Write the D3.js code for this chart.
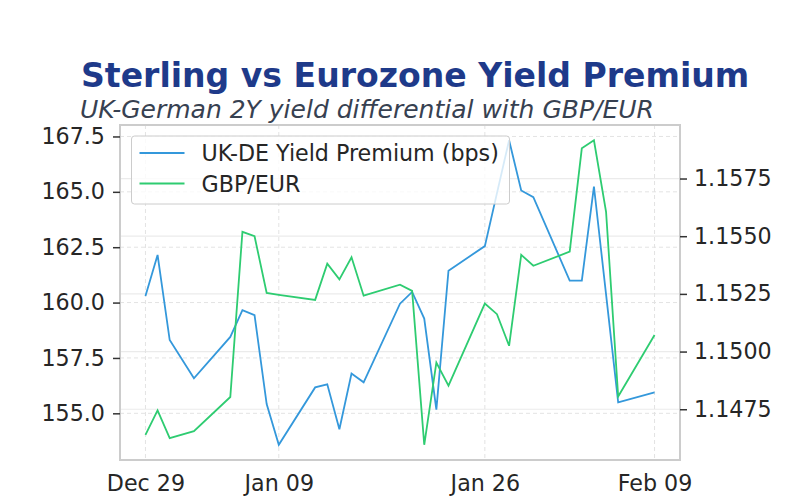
<!DOCTYPE html>
<html>
<head>
<meta charset="utf-8">
<script src="https://cdn.jsdelivr.net/npm/d3@7"></script>
<style>
  body { margin: 0; background: #fff; }
  text { font-family: "DejaVu Sans", sans-serif; }
</style>
</head>
<body>
<div id="chart"></div>
<script>
// data
var dates = ["2025-12-29","2025-12-30","2025-12-31","2026-01-02","2026-01-05","2026-01-06","2026-01-07","2026-01-08","2026-01-09",
  "2026-01-12","2026-01-13","2026-01-14","2026-01-15","2026-01-16","2026-01-19","2026-01-20","2026-01-21","2026-01-22","2026-01-23",
  "2026-01-26","2026-01-27","2026-01-28","2026-01-29","2026-01-30","2026-02-02","2026-02-03","2026-02-04","2026-02-05","2026-02-06","2026-02-09"];
var premium = [160.30, 162.15, 158.31, 156.58, 158.45, 159.66, 159.43, 155.42, 153.58,
  156.17, 156.31, 154.28, 156.80, 156.40, 159.95, 160.48, 159.28, 155.17, 161.44,
  162.55, 164.94, 167.33, 165.06, 164.76, 160.99, 160.99, 165.24, 160.37, 155.50, 155.95];
var gbpeur = [1.14639, 1.14745, 1.14625, 1.14655, 1.14803, 1.15519, 1.15500, 1.15254, 1.15246,
  1.15224, 1.15381, 1.15313, 1.15409, 1.15242, 1.15290, 1.15263, 1.14596, 1.14952, 1.14852,
  1.15208, 1.15162, 1.15025, 1.15419, 1.15372, 1.15433, 1.15881, 1.15916, 1.15606, 1.14805, 1.15072];
var xTicks = ["2025-12-29","2026-01-09","2026-01-26","2026-02-09"];
var leftTicks = [155, 157.5, 160, 162.5, 165, 167.5];
var rightTicks = [1.1475, 1.15, 1.1525, 1.155, 1.1575];
var seriesNames = ["UK-DE Yield Premium (bps)", "GBP/EUR"];
var colors = ["#3498db", "#2ecc71"];

var W = 800, H = 500;
var margin = {top: 125, right: 120, bottom: 40, left: 120},
    width = W - margin.left - margin.right,
    height = H - margin.top - margin.bottom;
var fs = 22.2;

var parse = d3.timeParse("%Y-%m-%d");
var dd = dates.map(parse);

function pad(ext, f) {
  var p = (ext[1] - ext[0]) * f;
  return [ext[0] - p, ext[1] + p];
}

var tExt = d3.extent(dd);
var tPad = (tExt[1] - tExt[0]) * 0.05;
var x = d3.scaleTime()
  .domain([new Date(+tExt[0] - tPad), new Date(+tExt[1] + tPad)])
  .range([0, width]);
var y1 = d3.scaleLinear().domain(pad(d3.extent(premium), 0.05)).range([height, 0]);
var y2 = d3.scaleLinear().domain(pad(d3.extent(gbpeur), 0.05)).range([height, 0]);

var svg = d3.select("#chart").append("svg")
  .attr("width", W).attr("height", H);

svg.append("text")
  .attr("x", 81).attr("y", 87)
  .attr("font-size", 33.1).attr("font-weight", "bold")
  .attr("fill", "#1e3a8a")
  .text("Sterling vs Eurozone Yield Premium");

svg.append("text")
  .attr("x", 80).attr("y", 118)
  .attr("font-size", 25).attr("font-style", "italic")
  .attr("fill", "#374151")
  .text("UK-German 2Y yield differential with GBP/EUR");

var g = svg.append("g")
  .attr("transform", "translate(" + margin.left + "," + margin.top + ")");

// solid grid from the twin axis
g.append("g").selectAll("line")
  .data(rightTicks).enter().append("line")
  .attr("x1", 0).attr("x2", width)
  .attr("y1", function(d) { return y2(d); })
  .attr("y2", function(d) { return y2(d); })
  .attr("stroke", "#ebebeb").attr("stroke-width", 1.2);

// dashed grid
g.append("g").selectAll("line")
  .data(leftTicks).enter().append("line")
  .attr("x1", 0).attr("x2", width)
  .attr("y1", function(d) { return y1(d); })
  .attr("y2", function(d) { return y1(d); })
  .attr("stroke", "#e3e3e3").attr("stroke-width", 1)
  .attr("stroke-dasharray", "4,3");

g.append("g").selectAll("line")
  .data(xTicks).enter().append("line")
  .attr("x1", function(d) { return x(parse(d)); })
  .attr("x2", function(d) { return x(parse(d)); })
  .attr("y1", 0).attr("y2", height)
  .attr("stroke", "#e3e3e3").attr("stroke-width", 1)
  .attr("stroke-dasharray", "4,3");

// premium line
g.append("path")
  .datum(premium)
  .attr("fill", "none")
  .attr("stroke", colors[0])
  .attr("stroke-width", 1.8)
  .attr("d", d3.line()
    .x(function(d, i) { return x(dd[i]); })
    .y(function(d) { return y1(d); }));

// legend
var leg = g.append("g").attr("transform", "translate(11.5,11)");
leg.append("rect")
  .attr("width", 378).attr("height", 68)
  .attr("rx", 3)
  .attr("fill", "#fff").attr("fill-opacity", 0.8)
  .attr("stroke", "#cccccc").attr("stroke-width", 1);
seriesNames.forEach(function(name, i) {
  var yy = 17 + i * 30.5;
  leg.append("line")
    .attr("x1", 8).attr("x2", 53)
    .attr("y1", yy).attr("y2", yy)
    .attr("stroke", colors[i]).attr("stroke-width", 1.8);
  leg.append("text")
    .attr("x", 70).attr("y", yy + 8)
    .attr("font-size", fs).attr("fill", "#262626")
    .text(name);
});

// gbp/eur line
g.append("path")
  .datum(gbpeur)
  .attr("fill", "none")
  .attr("stroke", colors[1])
  .attr("stroke-width", 1.8)
  .attr("d", d3.line()
    .x(function(d, i) { return x(dd[i]); })
    .y(function(d) { return y2(d); }));

// frame
g.append("rect")
  .attr("width", width).attr("height", height)
  .attr("fill", "none")
  .attr("stroke", "#cccccc").attr("stroke-width", 2);

// axes
var axL = g.append("g")
  .call(d3.axisLeft(y1).tickValues(leftTicks).tickFormat(d3.format(".1f")).tickSize(7).tickPadding(8));
var axR = g.append("g")
  .attr("transform", "translate(" + width + ",0)")
  .call(d3.axisRight(y2).tickValues(rightTicks).tickFormat(d3.format(".4f")).tickSize(7).tickPadding(7));
var axB = g.append("g")
  .attr("transform", "translate(0," + height + ")")
  .call(d3.axisBottom(x).tickValues(xTicks.map(parse)).tickFormat(d3.timeFormat("%b %d")).tickSize(0).tickPadding(15));

[axL, axR, axB].forEach(function(a) {
  a.select(".domain").remove();
  a.selectAll(".tick line").attr("stroke", "#333").attr("stroke-width", 1.5);
  a.selectAll(".tick text")
    .attr("font-family", "DejaVu Sans")
    .attr("font-size", fs)
    .attr("fill", "#262626");
});
</script>
</body>
</html>
